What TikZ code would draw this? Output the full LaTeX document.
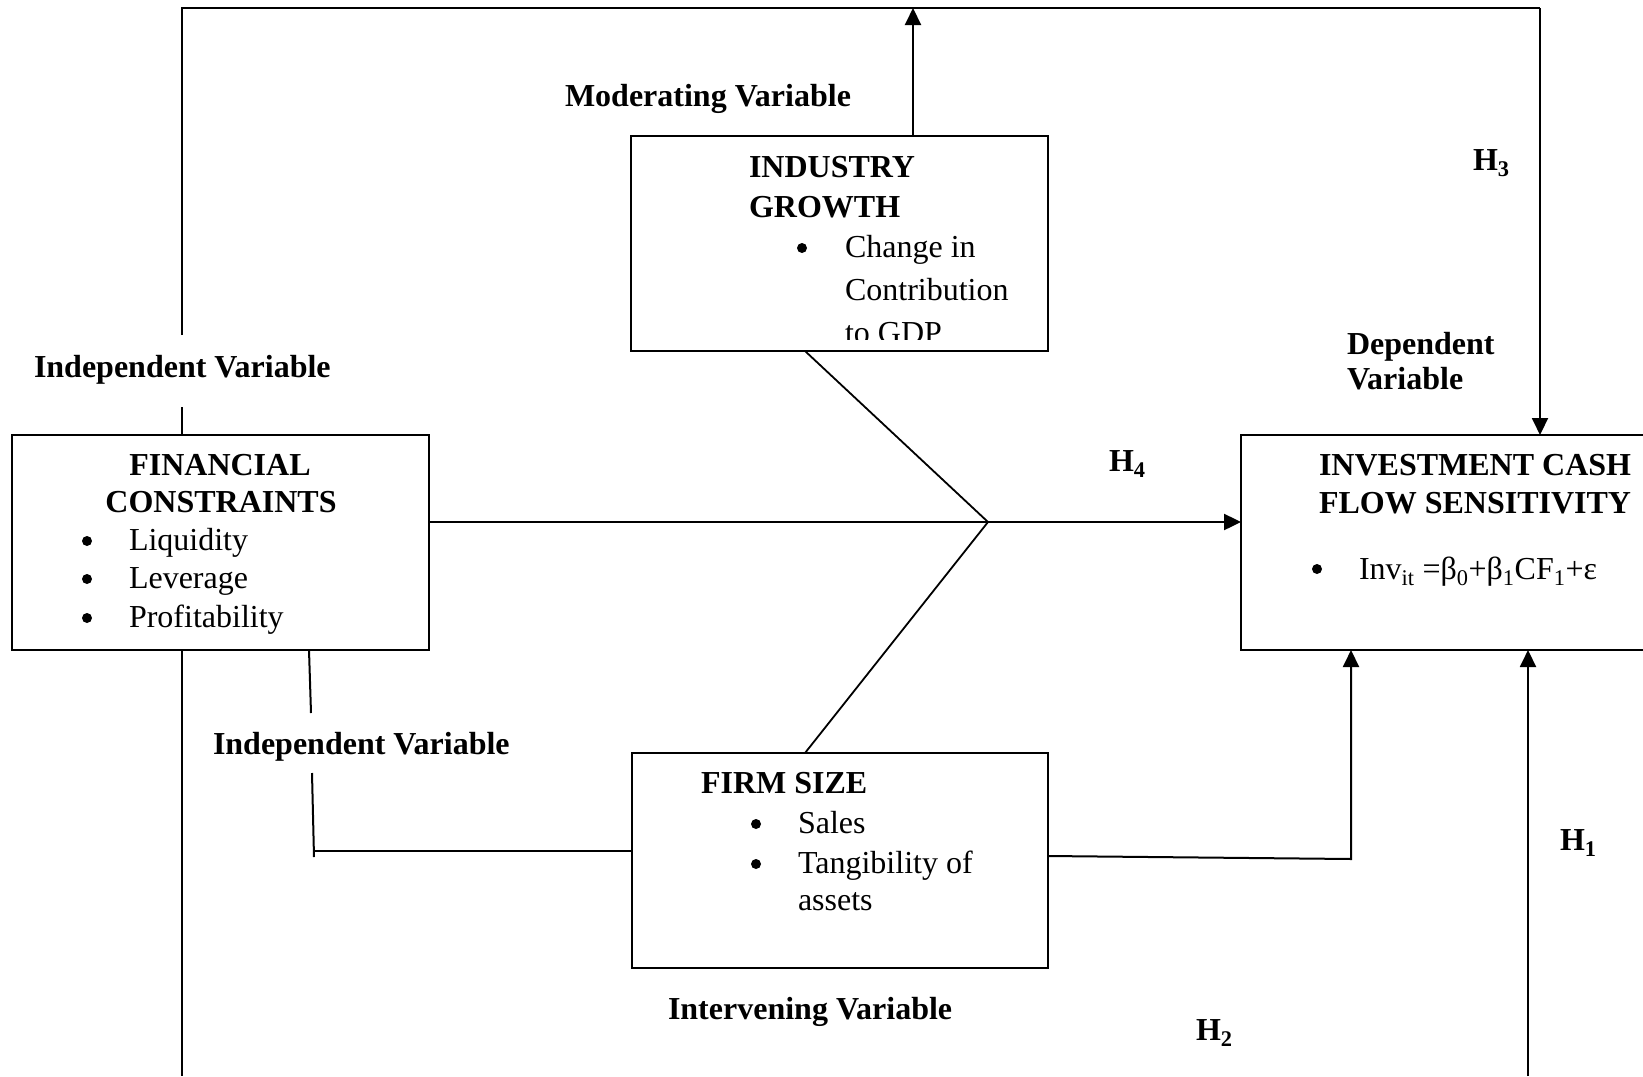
\documentclass[tikz,border=0pt]{standalone}
\usepackage{fontspec}
\setmainfont{Liberation Serif}
\usetikzlibrary{arrows.meta}
\begin{document}
\begin{tikzpicture}[x=1pt,y=-1pt,
  line width=2pt,
  box/.style={draw, rectangle, inner sep=0pt, outer sep=0pt, anchor=north west},
  arr/.style={-{Triangle[length=17pt,width=16pt]}},
  lbl/.style={anchor=base west, inner sep=0pt, font=\fontsize{32}{40}\selectfont\bfseries},
  ttl/.style={lbl, anchor=base},
  txt/.style={anchor=base west, inner sep=0pt, font=\fontsize{32}{40}\selectfont},
  bul/.style={circle, fill, draw=none, inner sep=0pt, minimum size=10pt},
]
\useasboundingbox (0,0) rectangle (1643,1076);

% boxes
\node[box, minimum width=417pt, minimum height=215pt] (fin) at (12,435) {};
\node[box, minimum width=417pt, minimum height=215pt] (ind) at (631,136) {};
\node[box, minimum width=416pt, minimum height=215pt] (firm) at (632,753) {};
\node[box, minimum width=460pt, minimum height=215pt] (inv) at (1241,435) {};

% coordinates
\coordinate (tl) at (182,8);
\coordinate (tr) at (1540,8);
\coordinate (modtop) at (913,8);
\coordinate (gapA) at (182,335);
\coordinate (gapB) at (182,407);
\coordinate (join) at (988,522);
\coordinate (bl) at (182,1076);
\coordinate (ivA) at (311,713);
\coordinate (ivB) at (312,773);
\coordinate (ivC) at (314,857);
\coordinate (ivD) at (315,851);
\coordinate (fsL) at (1048,856);
\coordinate (fsR) at (1351,859);
\coordinate (h1b) at (1528,1076);

% connectors
\draw (gapA) -- (tl) -- (tr);
\draw[arr] (tr) -- (tr |- inv.north);
\draw (gapB) -- (gapB |- fin.north);
\draw[arr] (modtop |- ind.north) -- (modtop);
\draw[arr, line width=2.4pt] (fin.east |- join) -- (inv.west |- join);
\draw[line width=1.8pt] ([xshift=174pt]ind.south west) -- (join) -- ([xshift=173pt]firm.north west);
\draw (bl |- fin.south) -- (bl);
\draw ([xshift=297pt]fin.south west) -- (ivA);
\draw (ivB) -- (ivC);
\draw (ivD) -- (firm.west |- ivD);
\draw[arr] (firm.east |- fsL) -- (fsR) -- (fsR |- inv.south);
\draw[arr] (h1b) -- (h1b |- inv.south);

% labels
\node[lbl] (modlbl) at (564,106) {Moderating Variable};
\node[lbl] (indlbl1) at (33,377) {Independent Variable};
\node[lbl] (indlbl2) at (212,754) {Independent Variable};
\node[lbl] (intlbl) at (667,1019) {Intervening Variable};
\node[lbl] (deplbl1) at (1346,354) {Dependent};
\node[lbl] (deplbl2) at (1346,389) {Variable};
\node[lbl] (h3) at (1472,170) {H\textsubscript{3}};
\node[lbl] (h4) at (1108,471) {H\textsubscript{4}};
\node[lbl] (h2) at (1195,1040) {H\textsubscript{2}};
\node[lbl] (h1) at (1559,850) {H\textsubscript{1}};

% financial constraints
\node[ttl] (fin1) at (220,475) {FINANCIAL};
\node[ttl] (fin2) at (221,512) {CONSTRAINTS};
\node[bul] (finb1) at (87,541) {};
\node[bul] (finb2) at (87,579) {};
\node[bul] (finb3) at (87,618) {};
\node[txt] (fint1) at (128,550) {Liquidity};
\node[txt] (fint2) at (128,588) {Leverage};
\node[txt] (fint3) at (128,627) {Profitability};

% industry growth
\node[lbl] (ind1) at (748,177) {INDUSTRY};
\node[lbl] (ind2) at (748,217) {GROWTH};
\node[bul] (indb1) at (802,248) {};
\node[txt] (indt1) at (844,257) {Change in};
\node[txt] (indt2) at (844,300) {Contribution};
\begin{scope}
\clip (631,136) rectangle (1048,339);
\node[txt] (indt3) at (844,343) {to GDP};
\end{scope}

% investment cash flow sensitivity
\node[lbl] (inv1) at (1318,475) {INVESTMENT CASH};
\node[lbl] (inv2) at (1318,513) {FLOW SENSITIVITY};
\node[bul] (invb1) at (1317,569) {};
\node[txt] (invt1) at (1358,579) {Inv\textsubscript{it} =β\textsubscript{0}+β\textsubscript{1}CF\textsubscript{1}+ε};

% firm size
\node[lbl] (firm1) at (700,793) {FIRM SIZE};
\node[bul] (firmb1) at (756,824) {};
\node[bul] (firmb2) at (756,864) {};
\node[txt] (firmt1) at (797,833) {Sales};
\node[txt] (firmt2) at (797,873) {Tangibility of};
\node[txt] (firmt3) at (797,910) {assets};
\end{tikzpicture}
\end{document}
